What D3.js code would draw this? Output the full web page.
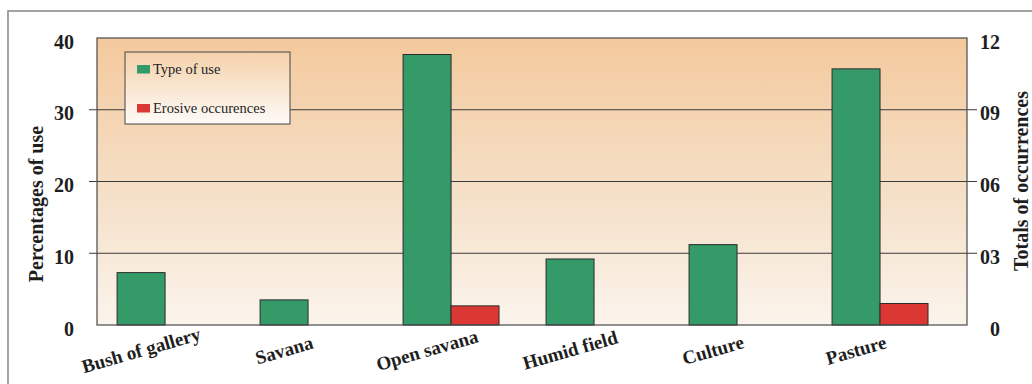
<!DOCTYPE html>
<html><head><meta charset="utf-8">
<script src="https://cdn.jsdelivr.net/npm/d3@7"></script>
<style>
html,body{margin:0;padding:0;background:#fff;}
svg{display:block;}
text{font-family:"Liberation Serif","Times New Roman",serif;fill:#1e1e1e;}
</style></head>
<body>
<svg id="c" width="1032" height="384"></svg>
<script>
const categories = ["Bush of gallery","Savana","Open savana","Humid field","Culture","Pasture"];
const typeOfUse = [7.3, 3.5, 37.7, 9.2, 11.2, 35.7];          // % (left axis)
const erosiveOccurrences = [0, 0, 0.8, 0, 0, 0.9];              // totals (right axis)
const leftTicks = [0, 10, 20, 30, 40];
const rightTicks = [0, 3, 6, 9, 12];
const rightTickLabels = ["0", "03", "06", "09", "12"];
const seriesNames = ["Type of use", "Erosive occurences"];
const seriesColors = ["#339a68", "#dc3833"];

const svg = d3.select("#c");
const P = {l: 97, r: 967, t: 38, b: 325};

const defs = svg.append("defs");
const g1 = defs.append("linearGradient").attr("id","bg").attr("x1",0).attr("y1",0).attr("x2",0).attr("y2",1);
g1.append("stop").attr("offset","0%").attr("stop-color","#f4c99d");
g1.append("stop").attr("offset","55%").attr("stop-color","#f5e0c8");
g1.append("stop").attr("offset","100%").attr("stop-color","#fbf4ec");
const g2 = defs.append("linearGradient").attr("id","lg").attr("x1",0).attr("y1",0).attr("x2",0).attr("y2",1);
g2.append("stop").attr("offset","0%").attr("stop-color","#f5d1aa");
g2.append("stop").attr("offset","100%").attr("stop-color","#fefbf8");

// outer frame
svg.append("rect").attr("x",8).attr("y",11).attr("width",1200).attr("height",600)
  .attr("fill","none").attr("stroke","#8c8c8c").attr("stroke-width",1.6);

const x = d3.scaleBand().domain(categories).range([P.l, P.r])
  .paddingInner(0.329).paddingOuter(0.2066).align(0.34);
const inner = d3.scaleBand().domain(seriesNames).range([0, x.bandwidth()]);
const yL = d3.scaleLinear().domain([0, 40]).range([P.b, P.t]);
const yR = d3.scaleLinear().domain([0, 12]).range([P.b, P.t]);

// plot background
svg.append("rect").attr("x",P.l).attr("y",P.t).attr("width",P.r-P.l).attr("height",P.b-P.t)
  .attr("fill","url(#bg)");

// gridlines (with tick stubs on both sides)
svg.append("g").selectAll("line").data(leftTicks.filter(d=>d>0 && d<40)).join("line")
  .attr("x1",P.l-8).attr("x2",P.r+10)
  .attr("y1",d=>yL(d)).attr("y2",d=>yL(d))
  .attr("stroke","#3a3a3a").attr("stroke-width",1);

// bars
const gb = svg.append("g");
categories.forEach((c,i)=>{
  const vals = [{s:seriesNames[0], y:yL(typeOfUse[i]), v:typeOfUse[i], col:seriesColors[0]},
                {s:seriesNames[1], y:yR(erosiveOccurrences[i]), v:erosiveOccurrences[i], col:seriesColors[1]}];
  vals.filter(d=>d.v>0).forEach(d=>{
    gb.append("rect").attr("x",x(c)+inner(d.s)).attr("y",d.y)
      .attr("width",inner.bandwidth()).attr("height",P.b-d.y)
      .attr("fill",d.col).attr("stroke","#2b2b2b").attr("stroke-width",1);
  });
});

// plot border
svg.append("rect").attr("x",P.l).attr("y",P.t).attr("width",P.r-P.l).attr("height",P.b-P.t)
  .attr("fill","none").attr("stroke","#4a4a4a").attr("stroke-width",1.2);

// left axis
const axL = svg.append("g").attr("transform",`translate(${P.l},0)`)
  .call(d3.axisLeft(yL).tickValues(leftTicks).tickSize(0).tickPadding(23).tickFormat(d3.format("d")));
axL.select(".domain").remove();
axL.selectAll("text").attr("font-size",20).attr("font-weight","bold").attr("dy","0.5em")
  .style("font-family","'Liberation Serif',serif").attr("fill","#1e1e1e");

// right axis
const axR = svg.append("g").attr("transform",`translate(${P.r},0)`)
  .call(d3.axisRight(yR).tickValues(rightTicks).tickSize(0).tickPadding(33)
    .tickFormat((d,i)=>rightTickLabels[i]));
axR.select(".domain").remove();
axR.selectAll("text").attr("font-size",20).attr("font-weight","bold").attr("dy","0.5em")
  .attr("text-anchor","end").style("font-family","'Liberation Serif',serif").attr("fill","#1e1e1e");

// category labels
svg.append("g").selectAll("text").data(categories).join("text")
  .attr("transform",d=>`translate(${x(d)+inner(seriesNames[0])+inner.bandwidth()/2},350) rotate(-16)`)
  .attr("text-anchor","middle").attr("dy","0.35em")
  .attr("font-size",19).attr("font-weight","bold").text(d=>d);

// axis titles
svg.append("text").attr("transform","translate(36,204) rotate(-90)")
  .attr("text-anchor","middle").attr("dy","0.35em").attr("font-size",20).attr("font-weight","bold")
  .text("Percentages of use");
svg.append("text").attr("transform","translate(1021,181) rotate(-90)")
  .attr("text-anchor","middle").attr("dy","0.35em").attr("font-size",20).attr("font-weight","bold")
  .text("Totals of occurrences");

// legend
const lg = svg.append("g").attr("transform","translate(125,52)");
lg.append("rect").attr("width",165).attr("height",72).attr("fill","url(#lg)")
  .attr("stroke","#444").attr("stroke-width",1);
seriesNames.forEach((s,i)=>{
  lg.append("rect").attr("x",12).attr("y",13+i*39).attr("width",13).attr("height",8.5)
    .attr("fill",seriesColors[i]);
  lg.append("text").attr("x",28).attr("y",21.5+i*39).attr("font-size",14.5).text(s);
});
</script>
</body></html>
